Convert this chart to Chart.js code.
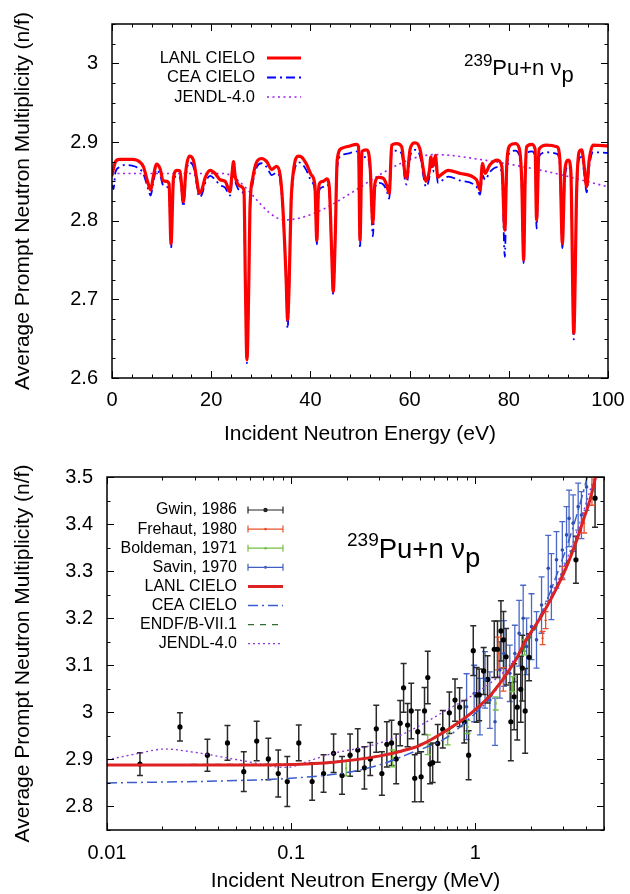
<!DOCTYPE html>
<html><head><meta charset="utf-8">
<script src="https://cdn.jsdelivr.net/npm/chart.js@4.4.0/dist/chart.umd.min.js"></script>
<style>
html,body{margin:0;padding:0;background:#fff;}
#wrap{position:relative;width:630px;height:894px;overflow:hidden;}
canvas{position:absolute;left:0;}
</style></head><body>
<div id="wrap">
<canvas id="top" width="630" height="447" style="top:0"></canvas>
<canvas id="bot" width="630" height="447" style="top:447px"></canvas>
</div>
<script>
// ================= TOP PANEL DATA (eV) =================
const topEnergy = [0.0,0.3,0.7,1.5,2.6,4.0,5.0,6.3,7.3,7.8,8.3,9.0,9.7,10.3,11.0,11.5,11.9,12.4,13.1,13.7,14.4,14.9,15.6,16.4,17.1,17.6,18.1,18.8,19.8,20.8,21.8,22.8,23.8,24.2,24.5,24.8,25.1,25.8,26.6,26.9,27.2,27.6,27.8,28.4,29.2,30.2,31.2,32.2,33.2,33.9,34.4,35.1,35.4,35.7,36.1,36.6,37.6,38.2,39.2,40.2,40.9,41.3,41.6,41.9,42.6,43.3,43.8,44.3,44.6,45.0,45.4,46.3,48.0,49.3,49.7,50.0,50.4,51.3,52.0,52.6,53.0,53.7,54.7,55.4,55.9,56.4,57.4,58.4,59.1,59.4,60.1,61.1,62.1,62.8,63.3,64.0,64.3,64.7,65.2,65.7,66.1,67.8,70.2,73.5,74.2,74.7,75.2,76.2,77.7,78.6,79.2,79.6,80.3,81.3,82.1,82.6,83.0,83.3,83.6,84.6,85.3,85.6,86.1,87.6,89.7,90.3,90.8,91.3,92.0,92.5,93.1,93.7,94.2,94.7,95.2,95.7,96.2,97.0,100];
const lanlTop = [2.858,2.866,2.875,2.878,2.878,2.878,2.877,2.869,2.847,2.839,2.855,2.872,2.866,2.851,2.850,2.847,2.771,2.855,2.864,2.863,2.824,2.864,2.882,2.877,2.852,2.835,2.839,2.855,2.864,2.860,2.852,2.850,2.837,2.860,2.875,2.858,2.850,2.844,2.839,2.716,2.623,2.727,2.812,2.855,2.875,2.879,2.875,2.865,2.869,2.858,2.822,2.727,2.674,2.716,2.822,2.864,2.882,2.881,2.872,2.858,2.845,2.775,2.835,2.848,2.850,2.853,2.843,2.758,2.710,2.777,2.877,2.892,2.895,2.897,2.894,2.775,2.888,2.890,2.873,2.797,2.847,2.855,2.854,2.845,2.835,2.896,2.898,2.894,2.858,2.854,2.891,2.899,2.891,2.864,2.850,2.864,2.881,2.869,2.883,2.855,2.857,2.864,2.860,2.852,2.839,2.873,2.860,2.871,2.877,2.869,2.788,2.873,2.896,2.898,2.892,2.852,2.750,2.852,2.894,2.897,2.891,2.801,2.891,2.896,2.894,2.877,2.771,2.864,2.877,2.864,2.657,2.843,2.888,2.890,2.869,2.843,2.877,2.896,2.895];
const ceaTop = [2.845,2.840,2.862,2.868,2.871,2.870,2.868,2.860,2.840,2.832,2.848,2.865,2.858,2.845,2.843,2.838,2.765,2.848,2.857,2.855,2.818,2.857,2.874,2.869,2.845,2.830,2.833,2.848,2.857,2.852,2.845,2.842,2.832,2.852,2.868,2.852,2.845,2.838,2.832,2.712,2.619,2.722,2.805,2.848,2.868,2.873,2.868,2.858,2.861,2.851,2.815,2.720,2.663,2.710,2.815,2.856,2.874,2.873,2.864,2.850,2.838,2.770,2.828,2.840,2.843,2.846,2.836,2.752,2.706,2.770,2.867,2.883,2.886,2.888,2.885,2.765,2.878,2.881,2.865,2.780,2.840,2.848,2.846,2.838,2.828,2.887,2.889,2.885,2.850,2.846,2.882,2.890,2.882,2.856,2.843,2.856,2.874,2.862,2.876,2.848,2.849,2.856,2.851,2.843,2.833,2.858,2.852,2.862,2.868,2.861,2.754,2.865,2.887,2.889,2.883,2.845,2.746,2.845,2.885,2.888,2.882,2.790,2.882,2.887,2.885,2.869,2.765,2.856,2.869,2.856,2.649,2.836,2.879,2.881,2.860,2.836,2.868,2.887,2.886];
const jendlTopEnergy = [0, 22.4, 34.8, 65.2, 75, 88, 100];
const jendlTop = [2.860, 2.860, 2.801, 2.884, 2.877, 2.862, 2.843];
const topXTickLabels = [0, 20, 40, 60, 80, 100];
const topYTickLabels = [2.6, 2.7, 2.8, 2.9, 3.0];

// ================= BOTTOM PANEL DATA (MeV) =================
const gwinE = [0.0151,0.0249,0.0351,0.0451,0.0553,0.065,0.0752,0.0851,0.0953,0.110,0.130,0.150,0.170,0.189,0.209,0.230,0.250,0.269,0.290,0.311,0.331,0.351,0.372,0.391,0.408,0.429,0.449,0.469,0.487,0.508,0.530,0.552,0.568,0.587,0.625,0.666,0.723,0.776,0.822,0.871,0.920,0.975,1.017,1.05,1.110,1.166,1.268,1.32,1.378,1.423,1.47,1.560,1.626,1.69,1.766,1.80,1.866,1.96,3.52,4.47];
const gwinV = [2.890,2.969,2.909,2.935,2.874,2.939,2.901,2.870,2.853,2.935,2.853,2.870,2.913,2.866,2.909,2.920,2.882,2.901,2.965,2.870,2.932,2.935,2.901,2.977,3.052,2.973,3.003,2.860,2.959,2.863,3.003,3.074,2.890,2.893,2.934,2.964,2.999,3.026,3.011,2.980,2.909,3.131,3.037,3.037,3.088,3.070,3.134,3.134,3.173,3.154,3.118,2.980,3.033,3.011,3.049,3.094,3.003,3.117,3.324,3.455];
const gwinErr = [0.024,0.030,0.034,0.037,0.042,0.042,0.044,0.050,0.053,0.038,0.040,0.040,0.041,0.040,0.045,0.045,0.045,0.035,0.050,0.046,0.048,0.048,0.053,0.048,0.052,0.046,0.059,0.050,0.046,0.053,0.050,0.056,0.042,0.042,0.040,0.040,0.044,0.045,0.041,0.045,0.052,0.053,0.058,0.055,0.050,0.050,0.060,0.060,0.064,0.060,0.060,0.083,0.070,0.070,0.070,0.070,0.090,0.050,0.050,0.062];
const frehautE = [1.33, 1.42, 2.32, 2.41, 2.97, 3.90, 4.30];
const frehautV = [3.125, 3.070, 3.158, 3.196, 3.296, 3.402, 3.470];
const frehautErr = [0.035, 0.025, 0.014, 0.018, 0.014, 0.021, 0.030];
const boldemanE = [0.199, 0.356, 0.552, 0.708, 0.908, 1.29, 1.59, 1.85];
const boldemanV = [2.881, 2.902, 2.931, 2.945, 2.969, 3.019, 3.060, 3.138];
const boldemanErr = [0.016, 0.018, 0.021, 0.014, 0.014, 0.014, 0.016, 0.016];
const savinE = [0.897,0.986,1.06,1.13,1.20,1.28,1.36,1.43,1.54,1.64,1.73,1.82,1.90,2.02,2.15,2.29,2.49,2.59,2.76,2.97,3.13,3.23,3.40,3.62,3.77,4.02];
const savinV = [3.012,3.040,3.012,3.069,3.026,2.980,3.090,3.125,3.083,3.125,3.168,3.200,3.140,3.182,3.154,3.228,3.306,3.267,3.324,3.345,3.377,3.412,3.402,3.437,3.419,3.479];
const savinErr = [0.07,0.06,0.06,0.06,0.06,0.05,0.06,0.07,0.06,0.06,0.07,0.07,0.06,0.07,0.06,0.06,0.07,0.07,0.06,0.06,0.06,0.06,0.06,0.05,0.05,0.05];
const lanlBotE = [0.01,0.05,0.1,0.13,0.17,0.22,0.3,0.4,0.5,0.7,0.96,1.2,1.41,1.65,1.88,2.15,2.44,2.8,3.13,3.5,3.86,4.2,4.5,5.0];
const lanlBot = [2.888,2.888,2.889,2.891,2.894,2.899,2.907,2.918,2.930,2.962,3.000,3.035,3.070,3.110,3.153,3.188,3.224,3.268,3.309,3.358,3.408,3.452,3.500,3.600];
const ceaBotE = [0.01,0.05,0.1,0.2,0.3,0.45,0.69,0.9,1.2,1.5,1.9,2.4,3.0,3.5,4.05,4.5];
const ceaBot = [2.850,2.855,2.860,2.872,2.888,2.914,2.945,2.982,3.030,3.085,3.150,3.230,3.330,3.410,3.500,3.580];
const endfBotE = [0.01,0.1,0.2,0.3,0.5,0.7,1.0,1.5,2.0,2.5,3.0,3.5,4.0,4.6,5.0];
const endfBot = [2.889,2.890,2.898,2.908,2.932,2.960,3.005,3.085,3.160,3.232,3.300,3.365,3.430,3.505,3.560];
const jendlBotE = [0.01,0.0145,0.0206,0.03,0.055,0.094,0.13,0.17,0.255,0.36,0.5,0.7,1.0,1.5,2.0,2.5,3.0,3.5,4.0,4.5,5.0];
const jendlBot = [2.899,2.912,2.922,2.915,2.897,2.883,2.899,2.913,2.927,2.945,2.972,3.005,3.040,3.095,3.165,3.235,3.305,3.375,3.445,3.510,3.570];
const botXTickLabels = [0.01, 0.1, 1];
const botYTickLabels = [2.8, 2.9, 3.0, 3.1, 3.2, 3.3, 3.4, 3.5];

// ================= helpers =================
const FONT = '"Liberation Sans", Arial, Helvetica, sans-serif';
const pts = (xs, ys) => xs.map((x, i) => ({x: x, y: ys[i]}));
const fmtNum = v => String(Math.round(v * 100) / 100);

function drawNuTitle(ctx, x, base, sup, main, supRise, subDrop) {
  ctx.fillStyle = '#000';
  ctx.textAlign = 'left'; ctx.textBaseline = 'alphabetic';
  ctx.font = sup + 'px ' + FONT;
  ctx.fillText('239', x, base - supRise);
  x += ctx.measureText('239').width;
  ctx.font = main + 'px ' + FONT;
  ctx.fillText('Pu+n \u03bd', x, base);
  x += ctx.measureText('Pu+n \u03bd').width;
  ctx.fillText('p', x, base + subDrop);
}

const panelCfg = {
  top: {
    xMajor: topXTickLabels, xMinor: Array.from({length: 26}, (_, i) => i * 4),
    yMajor: topYTickLabels, yMinor: Array.from({length: 19}, (_, i) => 2.6 + i * 0.025),
    xLabelY: 400, yLabelX: 98, xTitle: 'Incident Neutron Energy (eV)', xTitleY: 440,
    legend: {textX: 255, lineX1: 267, lineX2: 301, y0: 58, dy: 19.5, font: 16.5, items: [
      {label: 'LANL CIELO', type: 'line', color: '#ff0000', width: 3, dash: []},
      {label: 'CEA CIELO', type: 'line', color: '#0000ff', width: 1.8, dash: [9, 4, 2, 4]},
      {label: 'JENDL-4.0', type: 'line', color: '#a020f0', width: 1.6, dash: [2, 3.5]}
    ]},
    title: {x: 464, base: 75, sup: 17, main: 22, rise: 9, drop: 7}
  },
  bot: {
    xMajor: botXTickLabels, xMinor: [2,3,4,5,6,7,8,9].flatMap(k => [k * 0.01, k * 0.1, k * 1]).filter(v => v <= 5),
    yMajor: botYTickLabels, yMinor: Array.from({length: 16}, (_, i) => 2.75 + i * 0.05),
    xLabelY: 406, yLabelX: 93, xTitle: 'Incident Neutron Energy (MeV)', xTitleY: 440,
    legend: {textX: 237, lineX1: 248, lineX2: 283, y0: 63, dy: 19.1, font: 16, items: [
      {label: 'Gwin, 1986', type: 'err', color: '#222', point: 2.2},
      {label: 'Frehaut, 1980', type: 'err', color: '#e8502a', point: 1.3},
      {label: 'Boldeman, 1971', type: 'err', color: '#74c043', point: 1.3},
      {label: 'Savin, 1970', type: 'err', color: '#3f5fc0', point: 1.5},
      {label: 'LANL CIELO', type: 'line', color: '#dc2222', width: 3, dash: []},
      {label: 'CEA CIELO', type: 'line', color: '#3a5ccc', width: 1.5, dash: [10, 4, 2, 4]},
      {label: 'ENDF/B-VII.1', type: 'line', color: '#2f6f2f', width: 1.3, dash: [6, 6]},
      {label: 'JENDL-4.0', type: 'line', color: '#8a3ad8', width: 1.3, dash: [2, 3]}
    ]},
    title: {x: 347, base: 111, sup: 19, main: 27.5, rise: 12, drop: 9}
  }
};

const gnuplotPlugin = {
  id: 'gnuplotLook',
  beforeDatasetsDraw(chart) {
    const ctx = chart.ctx, xs = chart.scales.x, ys = chart.scales.y, ca = chart.chartArea;
    ctx.save();
    ctx.beginPath(); ctx.rect(ca.left, ca.top, ca.right - ca.left, ca.bottom - ca.top); ctx.clip();
    chart.data.datasets.forEach(ds => {
      if (!ds.errs) return;
      ctx.strokeStyle = ds.barColor; ctx.lineWidth = ds.barWidth;
      ds.data.forEach((p, i) => {
        const x = xs.getPixelForValue(p.x);
        const y1 = ys.getPixelForValue(p.y - ds.errs[i]);
        const y2 = ys.getPixelForValue(p.y + ds.errs[i]);
        ctx.beginPath();
        ctx.moveTo(x, y1); ctx.lineTo(x, y2);
        ctx.moveTo(x - 3, y1); ctx.lineTo(x + 3, y1);
        ctx.moveTo(x - 3, y2); ctx.lineTo(x + 3, y2);
        ctx.stroke();
      });
    });
    ctx.restore();
  },
  afterDraw(chart) {
    const cfg = panelCfg[chart.canvas.id];
    const ctx = chart.ctx, xs = chart.scales.x, ys = chart.scales.y, ca = chart.chartArea;
    ctx.save();
    ctx.setLineDash([]);
    ctx.strokeStyle = '#000'; ctx.lineWidth = 1;
    const tick = (isX, v, len) => {
      ctx.beginPath();
      if (isX) {
        const p = Math.round(xs.getPixelForValue(v)) + 0.5;
        ctx.moveTo(p, ca.bottom); ctx.lineTo(p, ca.bottom - len);
        ctx.moveTo(p, ca.top); ctx.lineTo(p, ca.top + len);
      } else {
        const p = Math.round(ys.getPixelForValue(v)) + 0.5;
        ctx.moveTo(ca.left, p); ctx.lineTo(ca.left + len, p);
        ctx.moveTo(ca.right, p); ctx.lineTo(ca.right - len, p);
      }
      ctx.stroke();
    };
    cfg.xMinor.forEach(v => tick(true, v, 3.5));
    cfg.xMajor.forEach(v => tick(true, v, 7));
    cfg.yMinor.forEach(v => tick(false, v, 3.5));
    cfg.yMajor.forEach(v => tick(false, v, 7));
    ctx.lineWidth = 1.5;
    ctx.strokeRect(ca.left, ca.top, ca.right - ca.left, ca.bottom - ca.top);
    ctx.fillStyle = '#000';
    ctx.font = '20px ' + FONT;
    ctx.textAlign = 'center'; ctx.textBaseline = 'middle';
    cfg.xMajor.forEach(v => ctx.fillText(fmtNum(v), xs.getPixelForValue(v), cfg.xLabelY));
    ctx.textAlign = 'right';
    cfg.yMajor.forEach(v => ctx.fillText(fmtNum(v), cfg.yLabelX, ys.getPixelForValue(v)));
    ctx.font = '21px ' + FONT;
    ctx.textAlign = 'center'; ctx.textBaseline = 'alphabetic';
    ctx.fillText(cfg.xTitle, (ca.left + ca.right) / 2, cfg.xTitleY);
    ctx.save();
    ctx.translate(23, (ca.top + ca.bottom) / 2);
    ctx.rotate(-Math.PI / 2);
    ctx.textBaseline = 'middle';
    ctx.fillText('Average Prompt Neutron Multiplicity (n/f)', 0, 0);
    ctx.restore();
    const lg = cfg.legend;
    lg.items.forEach((it, i) => {
      const y = lg.y0 + i * lg.dy;
      ctx.font = lg.font + 'px ' + FONT;
      ctx.fillStyle = '#000'; ctx.textAlign = 'right'; ctx.textBaseline = 'middle';
      ctx.fillText(it.label, lg.textX, y);
      ctx.strokeStyle = it.color; ctx.fillStyle = it.color;
      if (it.type === 'line') {
        ctx.lineWidth = it.width; ctx.setLineDash(it.dash);
        ctx.beginPath(); ctx.moveTo(lg.lineX1, y); ctx.lineTo(lg.lineX2, y); ctx.stroke();
        ctx.setLineDash([]);
      } else {
        ctx.lineWidth = 1.2;
        ctx.beginPath();
        ctx.moveTo(lg.lineX1, y); ctx.lineTo(lg.lineX2, y);
        ctx.moveTo(lg.lineX1, y - 3.5); ctx.lineTo(lg.lineX1, y + 3.5);
        ctx.moveTo(lg.lineX2, y - 3.5); ctx.lineTo(lg.lineX2, y + 3.5);
        ctx.stroke();
        ctx.beginPath(); ctx.arc((lg.lineX1 + lg.lineX2) / 2, y, it.point, 0, 2 * Math.PI); ctx.fill();
      }
    });
    const t = cfg.title;
    drawNuTitle(ctx, t.x, t.base, t.sup, t.main, t.rise, t.drop);
    ctx.restore();
  }
};

const commonOpts = (pad, xScale, yScale) => ({
  responsive: false, animation: false, events: [],
  layout: {padding: pad},
  plugins: {legend: {display: false}, tooltip: {enabled: false}},
  scales: {x: xScale, y: yScale},
  elements: {line: {tension: 0, cubicInterpolationMode: 'monotone', borderJoinStyle: 'round', borderCapStyle: 'round'}}
});

// ================= TOP CHART =================
new Chart(document.getElementById('top'), {
  type: 'line',
  data: {datasets: [
    {label: 'LANL CIELO', data: pts(topEnergy, lanlTop), borderColor: '#ff0000', borderWidth: 3.2, pointRadius: 0, order: 0},
    {label: 'CEA CIELO', data: pts(topEnergy, ceaTop), borderColor: '#0000ff', borderWidth: 1.8, borderDash: [9, 4, 2, 4], borderCapStyle: 'butt', pointRadius: 0, order: 1},
    {label: 'JENDL-4.0', data: pts(jendlTopEnergy, jendlTop), borderColor: '#a020f0', borderWidth: 1.6, borderDash: [2, 3.5], borderCapStyle: 'butt', pointRadius: 0, order: 2}
  ]},
  options: commonOpts({left: 112, right: 22, top: 24, bottom: 69},
    {type: 'linear', min: 0, max: 100, display: false},
    {type: 'linear', min: 2.6, max: 3.05, display: false}),
  plugins: [gnuplotPlugin]
});

// ================= BOTTOM CHART =================
new Chart(document.getElementById('bot'), {
  type: 'line',
  data: {datasets: [
    {label: 'LANL CIELO', data: pts(lanlBotE, lanlBot), borderColor: '#dc2222', borderWidth: 3, pointRadius: 0, order: 0},
    {label: 'ENDF/B-VII.1', data: pts(endfBotE, endfBot), borderColor: '#2f6f2f', borderWidth: 1.3, borderDash: [6, 6], borderCapStyle: 'butt', pointRadius: 0, order: 1},
    {label: 'CEA CIELO', data: pts(ceaBotE, ceaBot), borderColor: '#3a5ccc', borderWidth: 1.5, borderDash: [10, 4, 2, 4], borderCapStyle: 'butt', pointRadius: 0, order: 2},
    {label: 'JENDL-4.0', data: pts(jendlBotE, jendlBot), borderColor: '#8a3ad8', borderWidth: 1.3, borderDash: [2, 3], borderCapStyle: 'butt', pointRadius: 0, order: 3},
    {label: 'Savin, 1970', data: pts(savinE, savinV), errs: savinErr, barColor: '#4a68c8', barWidth: 1.3, showLine: false, pointRadius: 1.8, pointBackgroundColor: '#2f4fb0', pointBorderWidth: 0, order: 4},
    {label: 'Gwin, 1986', data: pts(gwinE, gwinV), errs: gwinErr, barColor: '#2a2a2a', barWidth: 1.5, showLine: false, pointRadius: 2.6, pointBackgroundColor: '#000', pointBorderWidth: 0, order: 5},
    {label: 'Boldeman, 1971', data: pts(boldemanE, boldemanV), errs: boldemanErr, barColor: '#74c043', barWidth: 1.3, showLine: false, pointStyle: 'rect', pointRadius: 1.5, pointBackgroundColor: '#74c043', pointBorderWidth: 0, order: 6},
    {label: 'Frehaut, 1980', data: pts(frehautE, frehautV), errs: frehautErr, barColor: '#e8502a', barWidth: 1.3, showLine: false, pointStyle: 'triangle', pointRadius: 1.8, pointBackgroundColor: '#e8502a', pointBorderWidth: 0, order: 7}
  ]},
  options: commonOpts({left: 107, right: 26, top: 30, bottom: 64},
    {type: 'logarithmic', min: 0.01, max: 5, display: false},
    {type: 'linear', min: 2.75, max: 3.5, display: false}),
  plugins: [gnuplotPlugin]
});
</script>
</body></html>
